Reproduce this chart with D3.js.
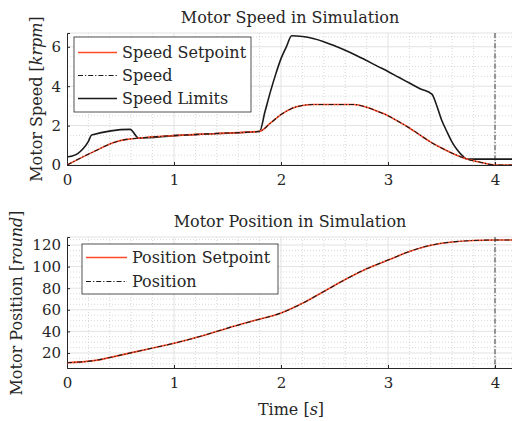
<!DOCTYPE html>
<html>
<head>
<meta charset="utf-8">
<script src="https://cdn.jsdelivr.net/npm/d3@7"></script>
<style>
  body { margin: 0; background: #fff; }
  svg { display: block; }
  text { font-family: "DejaVu Serif", serif; fill: #262626; }
</style>
</head>
<body>
<div id="chart"></div>
<script>
// 速度设定值 / 实际速度 (krpm)
const speedT = [0, 0.25, 0.46, 0.56, 0.66, 1.0, 1.4, 1.8, 1.9, 2.0, 2.1, 2.2, 2.3, 2.68, 2.8, 2.9, 3.0, 3.1, 3.2, 3.3, 3.4, 3.5, 3.6, 3.74, 3.87, 4.0, 4.2];
const speedSet = [0, 0.68, 1.18, 1.30, 1.36, 1.49, 1.60, 1.71, 2.12, 2.56, 2.87, 3.02, 3.07, 3.07, 2.93, 2.73, 2.5, 2.2, 1.88, 1.52, 1.16, 0.86, 0.6, 0.3, 0.13, 0, 0];

// 速度限制
const limT = [0, 0.05, 0.1, 0.15, 0.2, 0.23, 0.59, 0.67, 1.0, 1.4, 1.8, 1.85, 1.9, 1.95, 2.0, 2.05, 2.1, 2.2, 2.3, 2.4, 2.5, 2.6, 2.7, 2.8, 2.9, 3.0, 3.1, 3.2, 3.3, 3.41, 3.45, 3.5, 3.55, 3.6, 3.65, 3.7, 3.74, 4.2];
const limV = [0.42, 0.46, 0.58, 0.82, 1.2, 1.52, 1.81, 1.36, 1.49, 1.6, 1.7, 2.7, 3.7, 4.6, 5.4, 6.0, 6.56, 6.52, 6.42, 6.26, 6.05, 5.82, 5.57, 5.3, 5.02, 4.75, 4.45, 4.16, 3.87, 3.6, 3.1, 2.3, 1.7, 1.15, 0.75, 0.45, 0.3, 0.3];

// 位置 (round)
const posT = [0, 0.25, 0.5, 0.75, 1.0, 1.25, 1.5, 1.75, 2.0, 2.2, 2.4, 2.6, 2.8, 3.0, 3.2, 3.4, 3.6, 3.8, 4.0, 4.2];
const posV = [11, 12.9, 18, 23.5, 29, 35.5, 43, 50, 57, 66, 77, 88, 98, 106, 114, 119.8, 122.8, 124.2, 124.6, 124.6];

const xTicks = [0, 1, 2, 3, 4];
const speedTicks = [0, 2, 4, 6];
const posTicks = [20, 40, 60, 80, 100, 120];

const RED = "#ff4a26";
const DASHDOT = "5,2,1.2,2";

const W = 512, H = 421;
const svg = d3.select("#chart").append("svg").attr("width", W).attr("height", H);

function zip(t, v) { return t.map((d, i) => ({ t: d, v: v[i] })); }

function panel(opt) {
  const x = d3.scaleLinear().domain([0, 4.2]).range([67, 67 + 4.2 * 107]);
  const y = d3.scaleLinear().domain(opt.yDomain).range([opt.bottom, opt.top]);
  const g = svg.append("g");
  const id = "clip" + opt.name;
  svg.append("clipPath").attr("id", id).append("rect")
    .attr("x", 67).attr("y", opt.top).attr("width", W - 67).attr("height", opt.bottom - opt.top);

  // 次网格
  const xMinor = d3.range(0, 4.21, 0.2).filter(d => Math.abs(d - Math.round(d)) > 1e-6);
  const yMinor = d3.range(Math.ceil(opt.yDomain[0] / opt.minor) * opt.minor, opt.yDomain[1], opt.minor)
    .filter(d => !opt.ticks.some(t => Math.abs(t - d) < 1e-6));
  g.selectAll(".mx").data(xMinor).enter().append("line")
    .attr("x1", d => x(d)).attr("x2", d => x(d)).attr("y1", opt.top).attr("y2", opt.bottom)
    .attr("stroke", "#c8c8c8").attr("stroke-width", 0.7).attr("stroke-dasharray", "1,2");
  g.selectAll(".my").data(yMinor).enter().append("line")
    .attr("x1", 67).attr("x2", W).attr("y1", d => y(d)).attr("y2", d => y(d))
    .attr("stroke", "#c8c8c8").attr("stroke-width", 0.7).attr("stroke-dasharray", "1,2");
  // 主网格
  g.selectAll(".gx").data(xTicks.slice(1)).enter().append("line")
    .attr("x1", d => x(d)).attr("x2", d => x(d)).attr("y1", opt.top).attr("y2", opt.bottom)
    .attr("stroke", "#e2e2e2").attr("stroke-width", 1);
  g.selectAll(".gy").data(opt.ticks).enter().append("line")
    .attr("x1", 67).attr("x2", W).attr("y1", d => y(d)).attr("y2", d => y(d))
    .attr("stroke", "#e2e2e2").attr("stroke-width", 1);
  g.append("line").attr("x1", 67).attr("x2", W).attr("y1", opt.top).attr("y2", opt.top)
    .attr("stroke", "#e2e2e2");

  // 坐标轴
  const xa = g.append("g").attr("transform", `translate(0,${opt.bottom})`)
    .call(d3.axisBottom(x).tickValues(xTicks).tickSize(-3).tickPadding(9).tickFormat(d3.format("d")));
  const ya = g.append("g").attr("transform", "translate(67,0)")
    .call(d3.axisLeft(y).tickValues(opt.ticks).tickSize(-3).tickPadding(6).tickFormat(d3.format("d")));
  [xa, ya].forEach(a => {
    a.select(".domain").attr("stroke", "#262626").attr("stroke-width", 1);
    a.selectAll(".tick line").attr("stroke", "#262626");
    a.selectAll("text").attr("font-family", "DejaVu Serif").attr("font-size", 15).attr("fill", "#262626");
  });
  xa.selectAll("text").attr("dy", "0.71em");

  // 曲线
  const line = d3.line().x(d => x(d.t)).y(d => y(d.v)).curve(d3.curveMonotoneX);
  const lines = g.append("g").attr("clip-path", `url(#${id})`);
  opt.series.forEach(s => {
    lines.append("path").attr("d", line(s.data)).attr("fill", "none")
      .attr("stroke", s.color).attr("stroke-width", s.width)
      .attr("stroke-dasharray", s.dash || null);
  });
  lines.append("line").attr("x1", x(4)).attr("x2", x(4)).attr("y1", opt.top).attr("y2", opt.bottom)
    .attr("stroke", "#262626").attr("stroke-width", 0.9).attr("stroke-dasharray", DASHDOT);

  // 标题和轴标签
  svg.append("text").attr("x", 290).attr("y", opt.top - 10).attr("text-anchor", "middle")
    .attr("font-size", 16).text(opt.title);
  const yl = svg.append("text").attr("transform", `translate(${opt.ylabelX},${opt.ylabelY}) rotate(-90)`)
    .attr("text-anchor", "middle").attr("font-size", 16);
  yl.append("tspan").text(opt.ylabel + " [");
  yl.append("tspan").attr("font-style", "italic").text(opt.unit);
  yl.append("tspan").text("]");

  // 图例
  const lg = svg.append("g");
  const b = opt.legend;
  lg.append("rect").attr("x", b.x).attr("y", b.y).attr("width", b.w).attr("height", b.h)
    .attr("fill", "#fff").attr("stroke", "#262626").attr("stroke-width", 0.8);
  b.items.forEach((it, i) => {
    const cy = b.y + b.first + i * b.step;
    it.strokes.forEach(s => {
      lg.append("line").attr("x1", b.x + 4).attr("x2", b.x + 4 + b.len).attr("y1", cy).attr("y2", cy)
        .attr("stroke", s.color).attr("stroke-width", s.width).attr("stroke-dasharray", s.dash || null);
    });
    lg.append("text").attr("x", b.x + b.len + 9).attr("y", cy + 5.5).attr("font-size", 16).text(it.label);
  });
  return x;
}

const spd = zip(speedT, speedSet);
const lim = zip(limT, limV);
const pos = zip(posT, posV);

panel({
  name: "a", top: 33, bottom: 165, yDomain: [0, 6.7], ticks: speedTicks, minor: 0.5,
  title: "Motor Speed in Simulation", ylabel: "Motor Speed", unit: "krpm", ylabelX: 42, ylabelY: 99,
  series: [
    { data: lim, color: "#1a1a1a", width: 1.6 },
    { data: spd, color: RED, width: 1.6 },
    { data: spd, color: "#1a1a1a", width: 1.1, dash: DASHDOT }
  ],
  legend: { x: 74, y: 37, w: 177, h: 75, first: 15.5, step: 23, len: 39, items: [
    { label: "Speed Setpoint", strokes: [{ color: RED, width: 1.6 }] },
    { label: "Speed", strokes: [{ color: "#1a1a1a", width: 1.1, dash: DASHDOT }] },
    { label: "Speed Limits", strokes: [{ color: "#1a1a1a", width: 1.6 }] }
  ] }
});

panel({
  name: "b", top: 237, bottom: 368, yDomain: [6.1, 127.4], ticks: posTicks, minor: 5,
  title: "Motor Position in Simulation", ylabel: "Motor Position", unit: "round", ylabelX: 22, ylabelY: 303,
  series: [
    { data: pos, color: RED, width: 1.6 },
    { data: pos, color: "#1a1a1a", width: 1.1, dash: DASHDOT }
  ],
  legend: { x: 82, y: 244, w: 196, h: 50, first: 13.5, step: 24, len: 41, items: [
    { label: "Position Setpoint", strokes: [{ color: RED, width: 1.6 }] },
    { label: "Position", strokes: [{ color: "#1a1a1a", width: 1.1, dash: DASHDOT }] }
  ] }
});

const xl = svg.append("text").attr("x", 291).attr("y", 415).attr("text-anchor", "middle").attr("font-size", 16);
xl.append("tspan").text("Time [");
xl.append("tspan").attr("font-style", "italic").text("s");
xl.append("tspan").text("]");
</script>
</body>
</html>
